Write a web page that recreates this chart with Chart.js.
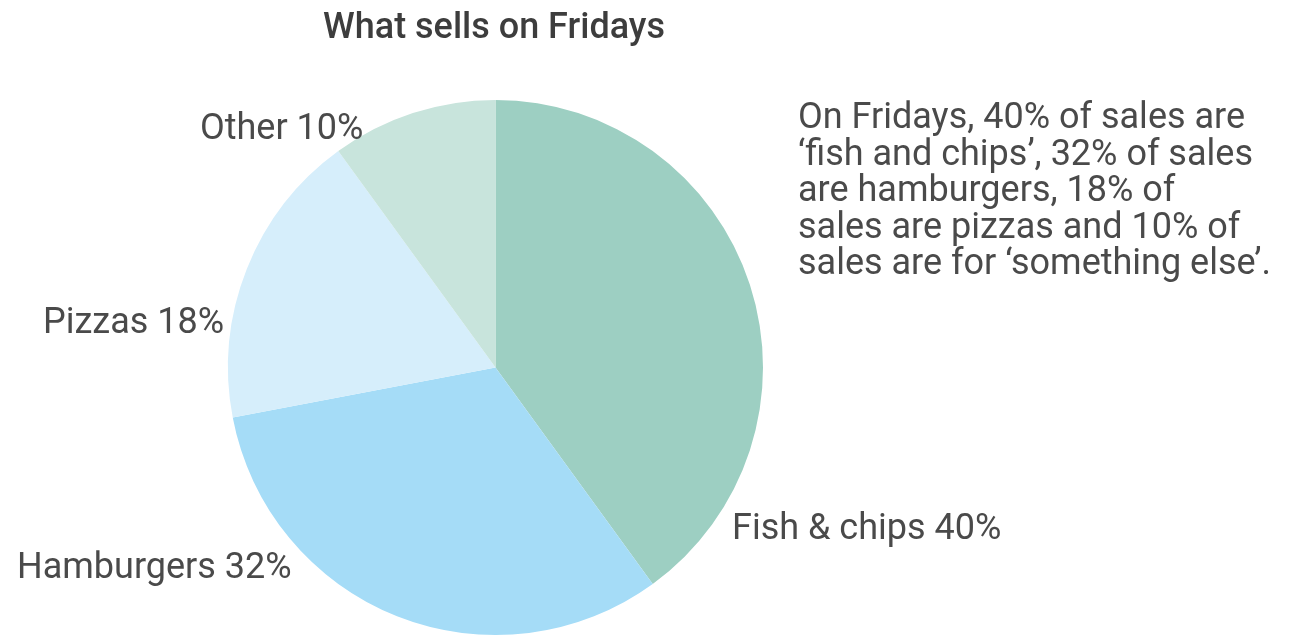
<!DOCTYPE html>
<html>
<head>
<meta charset="utf-8">
<script src="https://cdn.jsdelivr.net/npm/chart.js@4"></script>
<style>
  html, body { margin: 0; padding: 0; background: #fff; }
  #wrap { width: 1289px; height: 637px; }
</style>
</head>
<body>
<div id="wrap"><canvas id="pie" width="1289" height="637"></canvas></div>
<script>
const categories = ['Fish & chips', 'Hamburgers', 'Pizzas', 'Other'];
const shares = [40, 32, 18, 10];
const sliceColors = ['#9dcfc2', '#a5dcf7', '#d6eefb', '#c8e4dc'];

const chartTitle = 'What sells on Fridays';
const noteLines = [
  'On Fridays, 40% of sales are',
  '\u2018fish and chips\u2019, 32% of sales',
  'are hamburgers, 18% of',
  'sales are pizzas and 10% of',
  'sales are for \u2018something else\u2019.'
];

// where each slice label sits (left x, baseline y)
const labelSpots = [[732, 539], [17, 578], [43, 333], [200, 139]];

const textPlugin = {
  id: 'textPlugin',
  afterDraw(chart) {
    const c = chart.ctx;
    c.save();
    c.textBaseline = 'alphabetic';

    c.fillStyle = '#3d3d3d';
    c.font = '500 36px Roboto';
    c.textAlign = 'center';
    c.fillText(chartTitle, 494, 38);

    c.fillStyle = '#4a4a4a';
    c.font = '36px Roboto';
    c.textAlign = 'left';
    categories.forEach((cat, i) => {
      const [x, y] = labelSpots[i];
      c.fillText(cat + ' ' + shares[i] + '%', x, y);
    });

    noteLines.forEach((line, i) => {
      c.fillText(line, 798, 128 + i * 36.5);
    });
    c.restore();
  }
};

new Chart(document.getElementById('pie').getContext('2d'), {
  type: 'pie',
  data: {
    labels: categories,
    datasets: [{
      data: shares,
      backgroundColor: sliceColors,
      borderWidth: 0
    }]
  },
  options: {
    responsive: false,
    animation: false,
    devicePixelRatio: 1,
    layout: { padding: { left: 228, right: 526, top: 100, bottom: 2 } },
    plugins: {
      legend: { display: false },
      tooltip: { enabled: false }
    }
  },
  plugins: [textPlugin]
});
</script>
</body>
</html>
